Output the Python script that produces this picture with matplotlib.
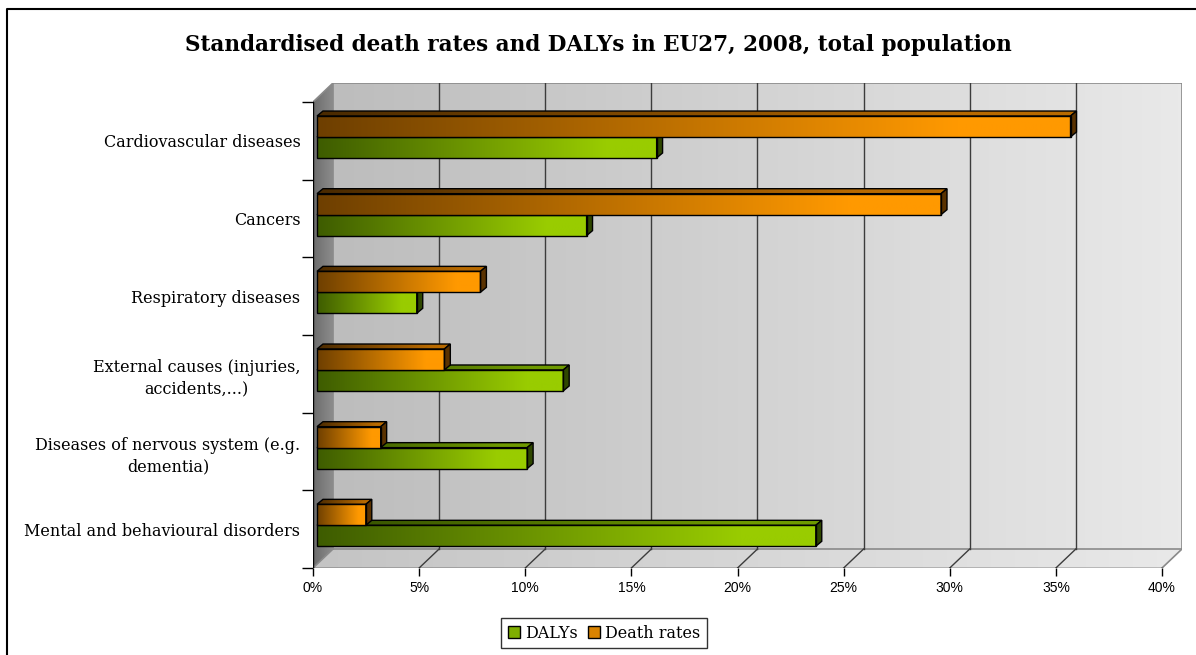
import numpy as np
import matplotlib.pyplot as plt
from matplotlib.colors import LinearSegmentedColormap
from matplotlib.patches import Polygon, Rectangle, Patch
from matplotlib.lines import Line2D

categories = ['Cardiovascular diseases', 'Cancers', 'Respiratory diseases',
              'External causes (injuries,\naccidents,...)',
              'Diseases of nervous system (e.g.\ndementia)',
              'Mental and behavioural disorders']
death_rates = [35.5, 29.4, 7.7, 6.0, 3.0, 2.3]
dalys = [16.0, 12.7, 4.7, 11.6, 9.9, 23.5]
xticks = [0, 5, 10, 15, 20, 25, 30, 35, 40]
xlabels = ['0%', '5%', '10%', '15%', '20%', '25%', '30%', '35%', '40%']

# depth of the 3d box and of each bar (data units)
DX, DY = 0.942, 0.245
BX, BY = 0.28, 0.064
X0, Y0 = 0.19, 0.05
H = 0.27

fig = plt.figure(figsize=(11.96, 6.55), dpi=100)
ax = fig.add_axes([313 / 1196, 87 / 655, 869 / 1196, 485 / 655])
ax.set_xlim(0, 40 + DX)
ax.set_ylim(0, 6 + DY)
for s in ax.spines.values():
    s.set_visible(False)


def cmap(c0, c1, stop=0.85):
    return LinearSegmentedColormap.from_list('g', [(0, c0), (stop, c1), (1, c1)])


grad = np.linspace(0, 1, 256).reshape(1, -1)


def grad_poly(pts, cm, ext, z):
    poly = Polygon(pts, closed=True, facecolor='none', edgecolor='none', zorder=z)
    ax.add_patch(poly)
    im = ax.imshow(grad, cmap=cm, extent=ext, aspect='auto', zorder=z,
                   interpolation='bilinear')
    im.set_clip_path(poly)
    return im


# walls
grad_poly([(DX, DY), (40 + DX, DY), (40 + DX, 6 + DY), (DX, 6 + DY)],
          cmap('#bdbdbd', '#e9e9e9', 1.0), [DX, 40 + DX, DY, 6 + DY], 0)
grad_poly([(0, 0), (40, 0), (40 + DX, DY), (DX, DY)], cmap('#c4c4c4', '#e9e9e9', 1.0),
          [0, 40 + DX, 0, DY], 0)
grad_poly([(0, 0), (DX, DY), (DX, 6 + DY), (0, 6)], cmap('#6c6c6c', '#8c8c8c', 1.0),
          [0, DX, 0, 6 + DY], 0)

edge = '#8a8a8a'
ax.plot([DX, 40 + DX, 40 + DX], [6 + DY, 6 + DY, DY], color=edge, lw=1.2, zorder=1)
ax.plot([DX, 40 + DX], [DY, DY], color=edge, lw=1.2, zorder=1)
ax.plot([40, 40 + DX], [0, DY], color=edge, lw=1.2, zorder=1)
ax.plot([0, DX, DX], [6, 6 + DY, DY], color=edge, lw=1.2, zorder=1)
ax.plot([0, DX], [0, DY], color=edge, lw=1.2, zorder=1)
for x in xticks[1:-1]:
    ax.plot([x + DX, x + DX], [DY, 6 + DY], color='#3c3c3c', lw=1, zorder=1)
    ax.plot([x, x + DX], [0, DY], color='#3c3c3c', lw=1, zorder=1)

# front axis lines
ax.plot([0, 40], [0, 0], color='black', lw=1, zorder=2)
ax.plot([0, 0], [0, 6], color='black', lw=1, zorder=2)

orange_front = cmap('#6e3f00', '#ff9900')
orange_top = cmap('#4a2a00', '#b86a00')
green_front = cmap('#3e5c00', '#99cc00')
green_top = cmap('#344f00', '#6f9a00')


def bar3d(val, yb, front, top, side, z):
    x1 = X0 + val
    top_pts = [(X0, yb + H), (x1, yb + H), (x1 + BX, yb + H + BY), (X0 + BX, yb + H + BY)]
    grad_poly(top_pts, top, [X0, x1 + BX, yb + H, yb + H + BY], z)
    ax.add_patch(Polygon(top_pts, closed=True, facecolor='none',
                         edgecolor='black', lw=1, zorder=z + 0.2))
    ax.add_patch(Polygon([(x1, yb), (x1 + BX, yb + BY), (x1 + BX, yb + H + BY), (x1, yb + H)],
                         closed=True, facecolor=side, edgecolor='black', lw=1, zorder=z + 0.2))
    ax.imshow(grad, cmap=front, extent=[X0, x1, yb, yb + H], aspect='auto',
              zorder=z + 0.1, interpolation='bilinear')
    ax.add_patch(Rectangle((X0, yb), val, H, facecolor='none', edgecolor='black',
                           lw=1, zorder=z + 0.2))


for i in range(len(categories)):
    yc = 6 - i - 0.5 + Y0
    bar3d(dalys[i], yc - H, green_front, green_top, '#2f4700', 3 + i * 2)
    bar3d(death_rates[i], yc, orange_front, orange_top, '#5a3200', 4 + i * 2)

ax.set_xlim(0, 40 + DX)
ax.set_ylim(0, 6 + DY)

ax.set_xticks(xticks)
ax.set_xticklabels(xlabels, fontsize=10, family='Liberation Sans')
ax.tick_params(axis='x', direction='out', length=6, width=1, pad=3)
ax.set_yticks(range(7))
ax.set_yticklabels([''] * 7)
ax.tick_params(axis='y', which='major', direction='out', length=8, width=1)
ax.set_yticks([6 - i - 0.5 for i in range(len(categories))], minor=True)
ax.set_yticklabels(categories, minor=True, fontsize=11.5, family='DejaVu Serif',
                   multialignment='center', linespacing=1.35)
ax.tick_params(axis='y', which='minor', length=0, pad=9)

fig.text(0.5, 0.931, 'Standardised death rates and DALYs in EU27, 2008, total population',
         ha='center', va='center', fontsize=15.5, fontweight='bold', family='DejaVu Serif')

handles = [Patch(facecolor='#7fae00', edgecolor='black', label='DALYs'),
           Patch(facecolor='#d98300', edgecolor='black', label='Death rates')]
leg = fig.legend(handles=handles, loc='center', bbox_to_anchor=(604 / 1196, 22 / 655),
                 ncol=2, frameon=True, fancybox=False, handlelength=0.8, handleheight=0.8,
                 handletextpad=0.3, columnspacing=0.6, borderpad=0.4,
                 prop={'family': 'DejaVu Serif', 'size': 11.5})
leg.get_frame().set_edgecolor('black')
leg.get_frame().set_linewidth(1)

# outer chart border (only left and top are inside the picture)
fig.add_artist(Line2D([7 / 1196, 7 / 1196, 1], [0, 1 - 9 / 655, 1 - 9 / 655],
                      transform=fig.transFigure, color='black', lw=1.5))

fig.savefig('out.png', dpi=100)
